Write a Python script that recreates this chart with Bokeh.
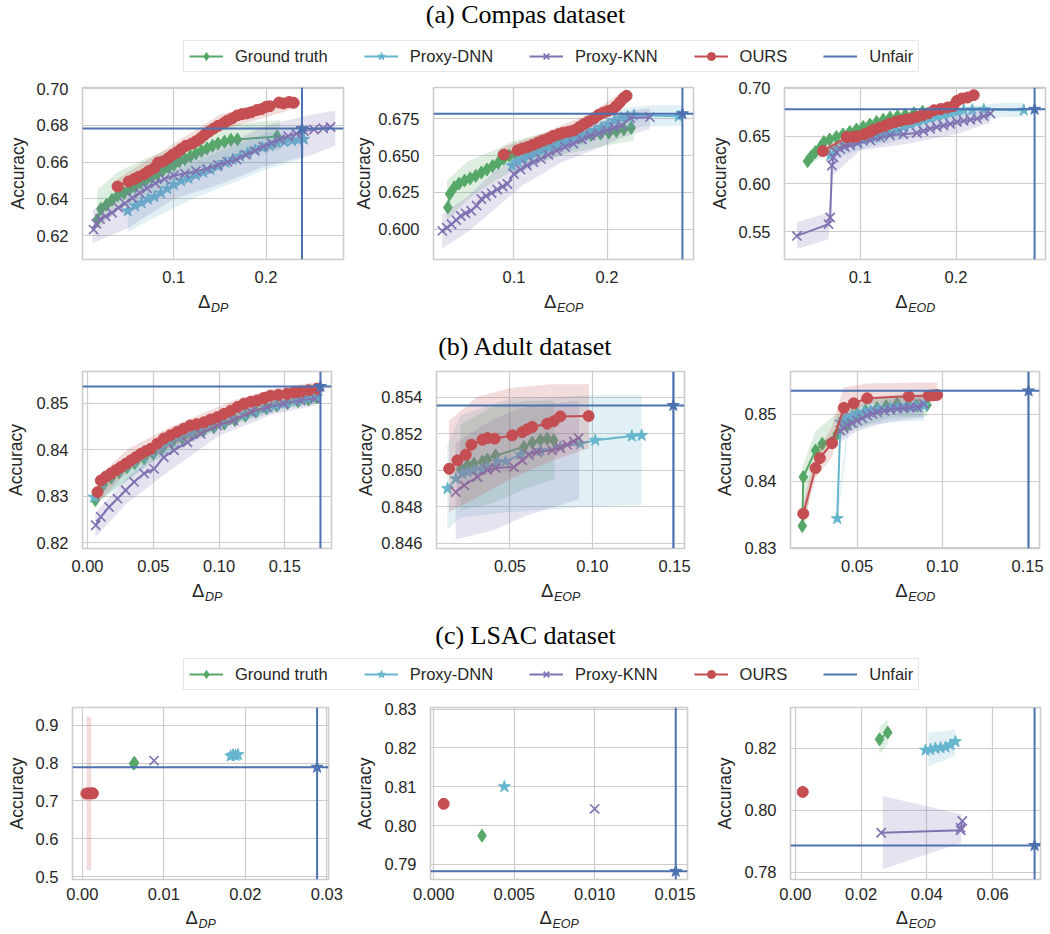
import math
from bokeh.plotting import figure
from bokeh.models import Range1d, FixedTicker, PrintfTickFormatter, Label, Legend, LegendItem, Span
from bokeh.layouts import column, row
from bokeh.embed import file_html
from bokeh.resources import INLINE

# ------------------------------------------------------------------ data
SERIES_NAMES = ["Ground truth", "Proxy-DNN", "Proxy-KNN", "OURS", "Unfair"]
SECTION_TITLES = ["(a) Compas dataset", "(b) Adult dataset", "(c) LSAC dataset"]
METRICS = ["DP", "EOP", "EOD"]

# Compas, Delta_DP
A1_GT_X = [0.017, 0.021, 0.027, 0.033, 0.039, 0.046, 0.052, 0.058, 0.064, 0.07, 0.076, 0.082, 0.088, 0.094, 0.1, 0.106, 0.112, 0.118, 0.124, 0.13, 0.136, 0.142, 0.148, 0.155, 0.162, 0.169, 0.212]
A1_GT_Y = [0.6285, 0.6345, 0.6368, 0.6395, 0.6418, 0.6432, 0.6452, 0.6468, 0.6488, 0.6502, 0.6518, 0.6535, 0.6555, 0.6572, 0.6585, 0.6605, 0.6618, 0.6632, 0.6648, 0.6662, 0.6675, 0.669, 0.6702, 0.6712, 0.6722, 0.6724, 0.674]
A1_GT_BX = [0.017, 0.04, 0.07, 0.10, 0.13, 0.16, 0.19, 0.215]
A1_GT_LO = [0.624, 0.634, 0.642, 0.650, 0.657, 0.662, 0.665, 0.667]
A1_GT_HI = [0.645, 0.655, 0.662, 0.668, 0.675, 0.680, 0.682, 0.683]
A1_DNN_X = [0.05, 0.058, 0.065, 0.072, 0.079, 0.086, 0.093, 0.1, 0.108, 0.116, 0.124, 0.132, 0.14, 0.148, 0.156, 0.164, 0.172, 0.18, 0.188, 0.196, 0.204, 0.212, 0.22, 0.228, 0.235, 0.241]
A1_DNN_Y = [0.6335, 0.6362, 0.6378, 0.6398, 0.6412, 0.6432, 0.6455, 0.6478, 0.6498, 0.6512, 0.653, 0.6545, 0.656, 0.6578, 0.6598, 0.6615, 0.6632, 0.665, 0.6666, 0.668, 0.669, 0.6705, 0.6712, 0.6718, 0.6722, 0.6725]
A1_DNN_BX = [0.05, 0.08, 0.12, 0.16, 0.20, 0.241]
A1_DNN_LO = [0.622, 0.630, 0.640, 0.648, 0.656, 0.662]
A1_DNN_HI = [0.643, 0.650, 0.660, 0.668, 0.676, 0.680]
A1_KNN_X = [0.013, 0.016, 0.02, 0.026, 0.033, 0.04, 0.047, 0.055, 0.063, 0.071, 0.08, 0.09, 0.1, 0.112, 0.124, 0.136, 0.148, 0.158, 0.168, 0.178, 0.188, 0.197, 0.206, 0.215, 0.224, 0.233, 0.241, 0.252, 0.262, 0.27]
A1_KNN_Y = [0.6233, 0.6265, 0.629, 0.6305, 0.6325, 0.6352, 0.6375, 0.6405, 0.6432, 0.6458, 0.6485, 0.6508, 0.6528, 0.6538, 0.6552, 0.6565, 0.6585, 0.6602, 0.6615, 0.664, 0.6662, 0.6685, 0.6705, 0.6725, 0.6742, 0.6755, 0.677, 0.6778, 0.6785, 0.6792]
A1_KNN_BX = [0.012, 0.05, 0.10, 0.15, 0.20, 0.25, 0.275]
A1_KNN_LO = [0.616, 0.624, 0.640, 0.648, 0.658, 0.664, 0.669]
A1_KNN_HI = [0.634, 0.648, 0.662, 0.668, 0.680, 0.686, 0.688]
A1_OURS_X = [0.039, 0.051, 0.057, 0.062, 0.068, 0.073, 0.079, 0.083, 0.088, 0.094, 0.099, 0.104, 0.108, 0.113, 0.119, 0.124, 0.129, 0.133, 0.138, 0.143, 0.148, 0.154, 0.158, 0.163, 0.169, 0.174, 0.179, 0.184, 0.19, 0.195, 0.2, 0.204, 0.214, 0.219, 0.225, 0.23]
A1_OURS_Y = [0.6468, 0.6495, 0.6508, 0.6521, 0.6535, 0.6552, 0.6569, 0.6598, 0.6604, 0.6622, 0.6641, 0.6656, 0.6672, 0.6689, 0.67, 0.6714, 0.673, 0.6748, 0.6766, 0.6783, 0.6798, 0.6812, 0.6826, 0.6838, 0.6855, 0.6862, 0.6866, 0.6872, 0.6884, 0.6889, 0.6902, 0.6905, 0.6925, 0.692, 0.6928, 0.6924]
A1_OURS_BX = [0.039, 0.10, 0.15, 0.23]
A1_OURS_LO = [0.643, 0.661, 0.677, 0.689]
A1_OURS_HI = [0.651, 0.670, 0.686, 0.696]
A1_UNFAIR = (0.239, 0.6783)

# Compas, Delta_EOP
A2_GT_X = [0.029, 0.031, 0.036, 0.041, 0.047, 0.053, 0.059, 0.065, 0.071, 0.077, 0.083, 0.089, 0.095, 0.101, 0.112, 0.124, 0.136, 0.148, 0.16, 0.172, 0.183, 0.193, 0.202, 0.21, 0.218, 0.226]
A2_GT_Y = [0.6148, 0.6239, 0.6285, 0.631, 0.633, 0.6345, 0.6362, 0.6385, 0.6405, 0.6428, 0.645, 0.6478, 0.6498, 0.6515, 0.6535, 0.6552, 0.6572, 0.659, 0.6608, 0.6625, 0.664, 0.6648, 0.6655, 0.6665, 0.6678, 0.6688]
A2_GT_BX = [0.028, 0.05, 0.08, 0.10, 0.15, 0.20, 0.229]
A2_GT_LO = [0.606, 0.620, 0.633, 0.640, 0.650, 0.657, 0.660]
A2_GT_HI = [0.633, 0.646, 0.654, 0.660, 0.668, 0.674, 0.675]
A2_DNN_X = [0.098, 0.104, 0.11, 0.117, 0.124, 0.131, 0.138, 0.145, 0.152, 0.159, 0.166, 0.173, 0.18, 0.187, 0.194, 0.201, 0.208, 0.215, 0.222, 0.229, 0.277]
A2_DNN_Y = [0.6432, 0.6458, 0.648, 0.6498, 0.6515, 0.6532, 0.655, 0.6565, 0.6582, 0.66, 0.6618, 0.6635, 0.6652, 0.667, 0.669, 0.6712, 0.6735, 0.6755, 0.6765, 0.6773, 0.6766]
A2_DNN_BX = [0.098, 0.13, 0.17, 0.21, 0.25, 0.28]
A2_DNN_LO = [0.636, 0.645, 0.656, 0.668, 0.670, 0.670]
A2_DNN_HI = [0.650, 0.662, 0.670, 0.682, 0.684, 0.684]
A2_KNN_X = [0.023, 0.028, 0.033, 0.038, 0.043, 0.048, 0.054, 0.06, 0.065, 0.07, 0.076, 0.082, 0.088, 0.093, 0.1, 0.107, 0.114, 0.121, 0.129, 0.137, 0.146, 0.155, 0.164, 0.173, 0.182, 0.191, 0.2, 0.208, 0.216, 0.225, 0.246]
A2_KNN_Y = [0.5989, 0.601, 0.6034, 0.6062, 0.609, 0.6108, 0.6125, 0.616, 0.6205, 0.6225, 0.6245, 0.627, 0.629, 0.6307, 0.6375, 0.6405, 0.6432, 0.6455, 0.6477, 0.6505, 0.6534, 0.6558, 0.658, 0.6608, 0.6636, 0.665, 0.667, 0.669, 0.6705, 0.6755, 0.676]
A2_KNN_BX = [0.023, 0.05, 0.08, 0.11, 0.15, 0.19, 0.22, 0.246]
A2_KNN_LO = [0.587, 0.598, 0.614, 0.630, 0.645, 0.655, 0.663, 0.668]
A2_KNN_HI = [0.610, 0.622, 0.640, 0.650, 0.662, 0.672, 0.680, 0.682]
A2_OURS_X = [0.089, 0.104, 0.109, 0.115, 0.12, 0.126, 0.131, 0.137, 0.142, 0.148, 0.153, 0.159, 0.164, 0.17, 0.175, 0.18, 0.186, 0.191, 0.196, 0.201, 0.206, 0.21, 0.214, 0.218, 0.221]
A2_OURS_Y = [0.6507, 0.6535, 0.6548, 0.6558, 0.6572, 0.6588, 0.6602, 0.6615, 0.6632, 0.6645, 0.6655, 0.6662, 0.667, 0.6692, 0.6712, 0.673, 0.6752, 0.6775, 0.679, 0.6802, 0.6812, 0.6835, 0.6862, 0.689, 0.6905]
A2_OURS_BX = [0.089, 0.13, 0.18, 0.221]
A2_OURS_LO = [0.646, 0.655, 0.668, 0.686]
A2_OURS_HI = [0.656, 0.665, 0.678, 0.695]
A2_UNFAIR = (0.281, 0.6783)

# Compas, Delta_EOD
A3_GT_X = [0.045, 0.049, 0.053, 0.058, 0.062, 0.068, 0.075, 0.082, 0.089, 0.096, 0.103, 0.11, 0.117, 0.124, 0.131, 0.139, 0.147, 0.156, 0.165]
A3_GT_Y = [0.6239, 0.629, 0.6333, 0.638, 0.6439, 0.6465, 0.6491, 0.6518, 0.6544, 0.657, 0.6596, 0.6622, 0.6649, 0.6672, 0.6695, 0.671, 0.6725, 0.674, 0.6755]
A3_GT_BX = [0.045, 0.07, 0.10, 0.13, 0.165]
A3_GT_LO = [0.618, 0.636, 0.648, 0.656, 0.662]
A3_GT_HI = [0.632, 0.652, 0.664, 0.672, 0.677]
A3_DNN_X = [0.0686, 0.074, 0.0826, 0.09, 0.0975, 0.1035, 0.11, 0.117, 0.124, 0.131, 0.138, 0.145, 0.152, 0.159, 0.166, 0.173, 0.18, 0.187, 0.194, 0.201, 0.208, 0.217, 0.229, 0.2707]
A3_DNN_Y = [0.6298, 0.636, 0.6404, 0.6425, 0.644, 0.6456, 0.6475, 0.6492, 0.6509, 0.653, 0.656, 0.6596, 0.662, 0.6645, 0.6667, 0.6685, 0.6702, 0.6719, 0.6738, 0.6755, 0.6772, 0.6776, 0.6779, 0.6772]
A3_DNN_BX = [0.069, 0.10, 0.15, 0.20, 0.25, 0.271]
A3_DNN_LO = [0.624, 0.636, 0.648, 0.662, 0.670, 0.670]
A3_DNN_HI = [0.636, 0.652, 0.666, 0.680, 0.685, 0.685]
A3_KNN_X = [0.0338, 0.0669, 0.0686, 0.0704, 0.072, 0.075, 0.079, 0.084, 0.0895, 0.097, 0.1105, 0.121, 0.131, 0.145, 0.159, 0.166, 0.173, 0.18, 0.187, 0.194, 0.201, 0.208, 0.215, 0.222, 0.229, 0.236]
A3_KNN_Y = [0.5456, 0.5579, 0.5649, 0.6193, 0.628, 0.633, 0.6368, 0.639, 0.6404, 0.6425, 0.6456, 0.6485, 0.6509, 0.652, 0.6533, 0.6555, 0.6578, 0.6596, 0.6612, 0.6628, 0.6649, 0.666, 0.6672, 0.6684, 0.671, 0.6737]
A3_KNN_BX = [0.034, 0.067, 0.072, 0.10, 0.15, 0.20, 0.236]
A3_KNN_LO = [0.532, 0.542, 0.610, 0.635, 0.642, 0.652, 0.664]
A3_KNN_HI = [0.560, 0.570, 0.632, 0.650, 0.660, 0.672, 0.680]
A3_OURS_X = [0.061, 0.086, 0.093, 0.0965, 0.104, 0.11, 0.114, 0.12, 0.126, 0.131, 0.137, 0.142, 0.148, 0.153, 0.159, 0.165, 0.171, 0.177, 0.184, 0.191, 0.197, 0.201, 0.206, 0.212, 0.2185]
A3_OURS_Y = [0.6344, 0.6491, 0.6495, 0.6498, 0.652, 0.6545, 0.6568, 0.659, 0.661, 0.6632, 0.665, 0.6662, 0.6674, 0.6682, 0.67, 0.6719, 0.674, 0.6772, 0.6785, 0.68, 0.6814, 0.687, 0.6895, 0.6905, 0.693]
A3_OURS_BX = [0.061, 0.10, 0.15, 0.2185]
A3_OURS_LO = [0.630, 0.646, 0.664, 0.688]
A3_OURS_HI = [0.640, 0.654, 0.672, 0.696]
A3_UNFAIR = (0.282, 0.6782)

# Adult, Delta_DP
B1_GT_X = [0.006, 0.012, 0.018, 0.024, 0.03, 0.036, 0.043, 0.05, 0.057, 0.064, 0.072, 0.08, 0.088, 0.096, 0.104, 0.112, 0.12, 0.128, 0.136, 0.144, 0.152, 0.16, 0.168, 0.174]
B1_GT_Y = [0.8292, 0.8325, 0.834, 0.8352, 0.8362, 0.8371, 0.8382, 0.8392, 0.8404, 0.8415, 0.8425, 0.8434, 0.8441, 0.8448, 0.8456, 0.8464, 0.8473, 0.8482, 0.8489, 0.8495, 0.85, 0.8504, 0.8508, 0.8512]
B1_GT_BX = [0.004, 0.05, 0.10, 0.15, 0.174]
B1_GT_LO = [0.8280, 0.8375, 0.8445, 0.8488, 0.8500]
B1_GT_HI = [0.8315, 0.8405, 0.8475, 0.8512, 0.8522]
B1_DNN_X = [0.005, 0.011, 0.017, 0.023, 0.029, 0.035, 0.042, 0.049, 0.056, 0.063, 0.071, 0.079, 0.087, 0.095, 0.103, 0.111, 0.119, 0.127, 0.135, 0.143, 0.151, 0.159, 0.167, 0.174]
B1_DNN_Y = [0.8298, 0.8327, 0.8342, 0.8354, 0.8364, 0.8373, 0.8384, 0.8394, 0.8405, 0.8417, 0.8427, 0.8435, 0.8443, 0.845, 0.8458, 0.8466, 0.8475, 0.8483, 0.849, 0.8496, 0.8501, 0.8505, 0.851, 0.8514]
B1_DNN_BX = [0.005, 0.05, 0.10, 0.15, 0.174]
B1_DNN_LO = [0.8282, 0.8377, 0.8447, 0.8490, 0.8502]
B1_DNN_HI = [0.8318, 0.8408, 0.8477, 0.8514, 0.8525]
B1_KNN_X = [0.0063, 0.0101, 0.0164, 0.0228, 0.029, 0.0354, 0.043, 0.0506, 0.058, 0.0658, 0.0759, 0.086, 0.0986, 0.111, 0.124, 0.1366, 0.149, 0.162, 0.173]
B1_KNN_Y = [0.8238, 0.8256, 0.8277, 0.8295, 0.8313, 0.8331, 0.8349, 0.8359, 0.8384, 0.8399, 0.8416, 0.8434, 0.8452, 0.8463, 0.8481, 0.8491, 0.8499, 0.8506, 0.851]
B1_KNN_BX = [0.006, 0.03, 0.06, 0.10, 0.14, 0.173]
B1_KNN_LO = [0.8212, 0.8285, 0.8350, 0.8430, 0.8475, 0.8495]
B1_KNN_HI = [0.8265, 0.8340, 0.8410, 0.8470, 0.8505, 0.8525]
B1_OURS_X = [0.0076, 0.0101, 0.0139, 0.0177, 0.0215, 0.0253, 0.0291, 0.0329, 0.0367, 0.0405, 0.0443, 0.048, 0.053, 0.058, 0.063, 0.068, 0.073, 0.078, 0.083, 0.0885, 0.0935, 0.0986, 0.1037, 0.1088, 0.114, 0.119, 0.124, 0.129, 0.134, 0.139, 0.145, 0.1517, 0.157, 0.162, 0.168, 0.1745]
B1_OURS_Y = [0.8309, 0.8334, 0.8342, 0.8349, 0.8356, 0.8363, 0.837, 0.8377, 0.8384, 0.8391, 0.8397, 0.8402, 0.8413, 0.8424, 0.8431, 0.8438, 0.8445, 0.8452, 0.8455, 0.8459, 0.8465, 0.847, 0.8477, 0.8484, 0.8492, 0.8499, 0.8503, 0.8506, 0.8511, 0.8516, 0.8518, 0.852, 0.8523, 0.8525, 0.8528, 0.8531]
B1_OURS_BX = [0.0076, 0.03, 0.06, 0.11, 0.14, 0.1745]
B1_OURS_LO = [0.8285, 0.8352, 0.8402, 0.8460, 0.8495, 0.8518]
B1_OURS_HI = [0.8340, 0.8400, 0.8445, 0.8505, 0.8530, 0.8546]
B1_UNFAIR = (0.177, 0.8536)

# Adult, Delta_EOP
B2_GT_X = [0.0202, 0.0242, 0.0282, 0.0333, 0.0363, 0.0413, 0.0585, 0.0635, 0.0685, 0.0726, 0.0766]
B2_GT_Y = [0.85007, 0.85026, 0.85035, 0.85047, 0.85058, 0.8508, 0.85126, 0.8515, 0.85163, 0.85172, 0.85163]
B2_GT_BX = [0.020, 0.040, 0.060, 0.077]
B2_GT_LO = [0.8478, 0.8482, 0.8490, 0.8495]
B2_GT_HI = [0.8525, 0.8535, 0.8538, 0.8538]
B2_DNN_X = [0.0121, 0.0171, 0.0212, 0.0242, 0.0282, 0.0333, 0.0363, 0.0423, 0.0474, 0.0565, 0.0685, 0.0806, 0.0927, 0.1018, 0.124, 0.130]
B2_DNN_Y = [0.84898, 0.84952, 0.8498, 0.84989, 0.84998, 0.85007, 0.85016, 0.85044, 0.85047, 0.85084, 0.85108, 0.85126, 0.85144, 0.85163, 0.85186, 0.8519]
B2_DNN_BX = [0.012, 0.020, 0.050, 0.100, 0.130]
B2_DNN_LO = [0.8467, 0.8474, 0.8477, 0.8480, 0.8481]
B2_DNN_HI = [0.8514, 0.8530, 0.8539, 0.8541, 0.8541]
B2_KNN_X = [0.0171, 0.0222, 0.0302, 0.0363, 0.0413, 0.0524, 0.0575, 0.0615, 0.0665, 0.0756, 0.0806, 0.0847, 0.0887, 0.0917]
B2_KNN_Y = [0.8488, 0.84916, 0.84962, 0.85, 0.85011, 0.85016, 0.85053, 0.85084, 0.85099, 0.85108, 0.85121, 0.85139, 0.85157, 0.85175]
B2_KNN_BX = [0.017, 0.040, 0.060, 0.092]
B2_KNN_LO = [0.8462, 0.8467, 0.8475, 0.8484]
B2_KNN_HI = [0.8515, 0.8528, 0.8535, 0.8538]
B2_OURS_X = [0.0131, 0.0181, 0.0232, 0.0266, 0.0333, 0.0363, 0.0407, 0.0514, 0.0575, 0.0605, 0.0635, 0.0726, 0.0766, 0.0806, 0.0978]
B2_OURS_Y = [0.85007, 0.85053, 0.85084, 0.85139, 0.85166, 0.85175, 0.85172, 0.8519, 0.85208, 0.85223, 0.85236, 0.85254, 0.85268, 0.85294, 0.85296]
B2_OURS_BX = [0.013, 0.030, 0.050, 0.075, 0.098]
B2_OURS_LO = [0.8477, 0.8485, 0.8495, 0.8505, 0.8512]
B2_OURS_HI = [0.8527, 0.8540, 0.8545, 0.8547, 0.8547]
B2_UNFAIR = (0.1492, 0.85354)

# Adult, Delta_EOD
B3_GT_X = [0.0178, 0.0184, 0.0256, 0.0295, 0.0383, 0.0441, 0.05, 0.055, 0.0617, 0.067, 0.0734, 0.08, 0.0852, 0.091]
B3_GT_Y = [0.83328, 0.8406, 0.84458, 0.84557, 0.84706, 0.84831, 0.85005, 0.8505, 0.8509, 0.8512, 0.85154, 0.8514, 0.85129, 0.85139]
B3_GT_BX = [0.0178, 0.0256, 0.035, 0.05, 0.07, 0.091]
B3_GT_LO = [0.8315, 0.8425, 0.8455, 0.8480, 0.8495, 0.8497]
B3_GT_HI = [0.8420, 0.8475, 0.8495, 0.8520, 0.8527, 0.8528]
B3_DNN_X = [0.0383, 0.0402, 0.0421, 0.0441, 0.047, 0.05, 0.054, 0.0578, 0.0625, 0.0695, 0.074, 0.0793, 0.084, 0.0891]
B3_DNN_Y = [0.83438, 0.84881, 0.8492, 0.84955, 0.8498, 0.85005, 0.8503, 0.85055, 0.8507, 0.8509, 0.85105, 0.85119, 0.85125, 0.85129]
B3_DNN_BX = [0.0383, 0.045, 0.06, 0.08, 0.0891]
B3_DNN_LO = [0.8335, 0.8475, 0.8485, 0.8490, 0.8490]
B3_DNN_HI = [0.8352, 0.8505, 0.8525, 0.8532, 0.8533]
B3_KNN_X = [0.0402, 0.0421, 0.0441, 0.047, 0.05, 0.053, 0.0559, 0.059, 0.0617, 0.066, 0.0695, 0.0735, 0.0773, 0.081, 0.0852, 0.0891]
B3_KNN_Y = [0.84756, 0.8479, 0.84831, 0.8487, 0.84905, 0.8494, 0.8498, 0.85005, 0.8503, 0.8505, 0.8507, 0.8508, 0.8509, 0.851, 0.85104, 0.85154]
B3_KNN_BX = [0.040, 0.05, 0.07, 0.0891]
B3_KNN_LO = [0.8458, 0.8475, 0.8490, 0.8495]
B3_KNN_HI = [0.8492, 0.8505, 0.8522, 0.8530]
B3_OURS_X = [0.0184, 0.0256, 0.0281, 0.0353, 0.0422, 0.048, 0.0559, 0.0803, 0.092, 0.0945, 0.0969]
B3_OURS_Y = [0.83512, 0.84194, 0.84343, 0.84567, 0.85095, 0.85164, 0.85239, 0.85269, 0.85279, 0.85282, 0.85289]
B3_OURS_BX = [0.0184, 0.0256, 0.035, 0.042, 0.056, 0.0969]
B3_OURS_LO = [0.8335, 0.8405, 0.8435, 0.8495, 0.8515, 0.8522]
B3_OURS_HI = [0.8368, 0.8440, 0.8480, 0.8540, 0.8546, 0.8548]
B3_UNFAIR = (0.1506, 0.8535)

# LSAC, Delta_DP
C1_GT_X = [0.0063, 0.0064]
C1_GT_Y = [0.7985, 0.8005]
C1_DNN_X = [0.0182, 0.0185, 0.0188, 0.0191]
C1_DNN_Y = [0.8185, 0.8215, 0.82, 0.822]
C1_KNN_X = [0.0088]
C1_KNN_Y = [0.8064]
C1_OURS_X = [0.0005, 0.0008, 0.0011, 0.0013]
C1_OURS_Y = [0.7195, 0.72, 0.7198, 0.7202]
C1_OURS_BX = [0.0005, 0.0011]
C1_OURS_LO = [0.518, 0.518]
C1_OURS_HI = [0.922, 0.922]
C1_UNFAIR = (0.0288, 0.789)

# LSAC, Delta_EOP
C2_GT_X = [0.0030]
C2_GT_Y = [0.7974]
C2_DNN_X = [0.00439]
C2_DNN_Y = [0.8100]
C2_KNN_X = [0.0100]
C2_KNN_Y = [0.8043]
C2_OURS_X = [0.00062]
C2_OURS_Y = [0.8056]
C2_UNFAIR = (0.01504, 0.7882)

# LSAC, Delta_EOD
C3_GT_X = [0.0256, 0.0281]
C3_GT_Y = [0.8229, 0.8251]
C3_GT_BX = [0.0256, 0.0281]
C3_GT_LO = [0.8181, 0.8215]
C3_GT_HI = [0.8270, 0.8294]
C3_DNN_X = [0.0396, 0.0411, 0.0426, 0.0442, 0.0457, 0.0472, 0.0487]
C3_DNN_Y = [0.8194, 0.8196, 0.82, 0.8202, 0.8204, 0.8211, 0.8222]
C3_DNN_BX = [0.0405, 0.045, 0.0485]
C3_DNN_LO = [0.8143, 0.8160, 0.8175]
C3_DNN_HI = [0.8251, 0.8255, 0.8262]
C3_KNN_X = [0.0261, 0.0503, 0.0503, 0.0508]
C3_KNN_Y = [0.7927, 0.7935, 0.7943, 0.7965]
C3_KNN_BX = [0.0266, 0.0505]
C3_KNN_LO = [0.7809, 0.7895]
C3_KNN_HI = [0.8046, 0.7987]
C3_OURS_X = [0.00223]
C3_OURS_Y = [0.8059]
C3_UNFAIR = (0.0728, 0.7886)

# Axis ticks
A1_XTICKS, A1_YTICKS = [0.1, 0.2], [0.62, 0.64, 0.66, 0.68, 0.70]
A2_XTICKS, A2_YTICKS = [0.1, 0.2], [0.600, 0.625, 0.650, 0.675]
A3_XTICKS, A3_YTICKS = [0.1, 0.2], [0.55, 0.60, 0.65, 0.70]
B1_XTICKS, B1_YTICKS = [0.0, 0.05, 0.10, 0.15], [0.82, 0.83, 0.84, 0.85]
B2_XTICKS, B2_YTICKS = [0.05, 0.10, 0.15], [0.846, 0.848, 0.850, 0.852, 0.854]
B3_XTICKS, B3_YTICKS = [0.05, 0.10, 0.15], [0.83, 0.84, 0.85]
C1_XTICKS, C1_YTICKS = [0.0, 0.01, 0.02, 0.03], [0.5, 0.6, 0.7, 0.8, 0.9]
C2_XTICKS, C2_YTICKS = [0.0, 0.005, 0.010, 0.015], [0.79, 0.80, 0.81, 0.82, 0.83]
C3_XTICKS, C3_YTICKS = [0.0, 0.02, 0.04, 0.06], [0.78, 0.80, 0.82]

# ------------------------------------------------------------------ style
GREEN, CYAN, PURPLE, RED, BLUE = "#55A868", "#64B5CD", "#8172B2", "#C44E52", "#4C72B0"
COLORS = [GREEN, CYAN, PURPLE, RED]
MARKERS = ["diamond", "star", "x", "circle"]
MSIZE = {"diamond": 13, "star": 12.5, "x": 13, "circle": 11}
SANS = "Liberation Sans"
SERIF = "Liberation Serif"
INK = "#262626"
GRIDC = "#cccccc"
SUB_W = {"DP": 17.5, "EOP": 26.5, "EOD": 27.0}
NAN = float("nan")


def add_series(p, xs, ys, color, marker):
    ln = p.line(xs, ys, line_color=color, line_width=2)
    kw = dict(marker=marker, size=MSIZE[marker], line_color=color)
    if marker == "x":
        kw.update(line_width=1.7)
    else:
        kw.update(fill_color=color)
    sc = p.scatter(xs, ys, **kw)
    return ln, sc


def panel(xr, yr, height, borders, xticks, yticks, xfmt, yfmt,
          series, unfair, acc_standoff, xstandoff=11):
    left, right, top, bottom = borders
    p = figure(width=350, height=height, x_range=Range1d(*xr), y_range=Range1d(*yr),
               output_backend="svg", toolbar_location=None, title=None,
               min_border_left=left, min_border_right=right,
               min_border_top=top, min_border_bottom=bottom)
    p.background_fill_color = "white"
    p.border_fill_color = "white"
    p.outline_line_color = GRIDC
    p.outline_line_width = 1.6
    p.xaxis.ticker = FixedTicker(ticks=xticks)
    p.yaxis.ticker = FixedTicker(ticks=yticks)
    p.xaxis.formatter = PrintfTickFormatter(format=xfmt)
    p.yaxis.formatter = PrintfTickFormatter(format=yfmt)
    for ax in (p.xaxis[0], p.yaxis[0]):
        ax.axis_line_color = None
        ax.major_tick_line_color = None
        ax.minor_tick_line_color = None
        ax.major_tick_out = 0
        ax.major_tick_in = 0
        ax.major_label_text_font = SANS
        ax.major_label_text_font_size = "16.5px"
        ax.major_label_text_color = INK
    p.xaxis.major_label_standoff = xstandoff
    p.yaxis.major_label_standoff = 14
    p.yaxis.axis_label = "Accuracy"
    p.yaxis.axis_label_standoff = acc_standoff
    p.yaxis.axis_label_text_font = SANS
    p.yaxis.axis_label_text_font_size = "17.5px"
    p.yaxis.axis_label_text_font_style = "normal"
    p.yaxis.axis_label_text_color = INK
    p.grid.grid_line_color = GRIDC
    p.grid.grid_line_width = 1.2

    for (xs, ys, band), color, marker in zip(series, COLORS, MARKERS):
        if band is not None:
            bx, lo, hi = band
            p.varea(x=bx, y1=lo, y2=hi, fill_color=color, fill_alpha=0.2)
        add_series(p, xs, ys, color, marker)

    ux, uy = unfair
    p.add_layout(Span(location=uy, dimension="width", line_color=BLUE, line_width=2))
    p.add_layout(Span(location=ux, dimension="height", line_color=BLUE, line_width=2))
    p.scatter([ux], [uy], marker="star", size=12.5, fill_color=BLUE, line_color=BLUE)
    return p


def strip(height, title=None, title_y=None, legend_bottom=None, deltas=None):
    """Full-width band holding section titles, the shared legend and x-axis names."""
    h = figure(width=1050, height=height, x_range=Range1d(0, 1050), y_range=Range1d(height, 0),
               output_backend="svg", toolbar_location=None, title=None,
               x_axis_type=None, y_axis_type=None,
               min_border_left=0, min_border_right=0, min_border_top=0, min_border_bottom=0)
    h.outline_line_color = None
    h.background_fill_color = "white"
    h.border_fill_color = "white"
    if title is not None:
        h.add_layout(Label(x=525, y=title_y, text=title, text_align="center", text_baseline="middle",
                           text_font=SERIF, text_font_size="26px", text_color="black"))
    if deltas is not None:
        cy, centers = deltas
        for cx, sub in zip(centers, METRICS):
            w = 12.5 + SUB_W[sub]
            h.add_layout(Label(x=cx, y=cy, x_offset=-w / 2, text="Δ",
                               text_align="left", text_baseline="middle",
                               text_font=SANS, text_font_size="18.5px", text_color=INK))
            h.add_layout(Label(x=cx, y=cy + 6, x_offset=-w / 2 + 13, text=sub,
                               text_align="left", text_baseline="middle", text_font_style="italic",
                               text_font=SANS, text_font_size="12.5px", text_color=INK))
    if legend_bottom is not None:
        items = []
        for name, color, marker in zip(SERIES_NAMES[:4], COLORS, MARKERS):
            ln, sc = add_series(h, [NAN], [NAN], color, marker)
            items.append(LegendItem(label=name, renderers=[ln, sc]))
        ul = h.line([NAN], [NAN], line_color=BLUE, line_width=2)
        items.append(LegendItem(label=SERIES_NAMES[4], renderers=[ul]))
        lg = Legend(items=items, location=(183, legend_bottom), orientation="horizontal",
                    glyph_width=34, glyph_height=20, label_height=20, label_standoff=12,
                    spacing=36, padding=5, margin=0,
                    label_text_font=SANS, label_text_font_size="16.5px", label_text_color=INK,
                    border_line_color="#d0d0d0", border_line_width=1,
                    background_fill_color="white", background_fill_alpha=1.0)
        h.add_layout(lg)
    return h


def band(bx, lo, hi):
    return (bx, lo, hi)


pA1 = panel((0.001, 0.284), (0.607, 0.7007), 210, (82, 7, 7, 31), A1_XTICKS, A1_YTICKS, "%.1f", "%.2f",
            [(A1_GT_X, A1_GT_Y, band(A1_GT_BX, A1_GT_LO, A1_GT_HI)),
             (A1_DNN_X, A1_DNN_Y, band(A1_DNN_BX, A1_DNN_LO, A1_DNN_HI)),
             (A1_KNN_X, A1_KNN_Y, band(A1_KNN_BX, A1_KNN_LO, A1_KNN_HI)),
             (A1_OURS_X, A1_OURS_Y, band(A1_OURS_BX, A1_OURS_LO, A1_OURS_HI))],
            A1_UNFAIR, 5)
pA2 = panel((0.0136, 0.2929), (0.5795, 0.6961), 210, (83, 7, 7, 31), A2_XTICKS, A2_YTICKS, "%.1f", "%.3f",
            [(A2_GT_X, A2_GT_Y, band(A2_GT_BX, A2_GT_LO, A2_GT_HI)),
             (A2_DNN_X, A2_DNN_Y, band(A2_DNN_BX, A2_DNN_LO, A2_DNN_HI)),
             (A2_KNN_X, A2_KNN_Y, band(A2_KNN_BX, A2_KNN_LO, A2_KNN_HI)),
             (A2_OURS_X, A2_OURS_Y, band(A2_OURS_BX, A2_OURS_LO, A2_OURS_HI))],
            A2_UNFAIR, 1)
pA3 = panel((0.0209, 0.2934), (0.5209, 0.701), 210, (84, 5, 7, 31), A3_XTICKS, A3_YTICKS, "%.1f", "%.2f",
            [(A3_GT_X, A3_GT_Y, band(A3_GT_BX, A3_GT_LO, A3_GT_HI)),
             (A3_DNN_X, A3_DNN_Y, band(A3_DNN_BX, A3_DNN_LO, A3_DNN_HI)),
             (A3_KNN_X, A3_KNN_Y, band(A3_KNN_BX, A3_KNN_LO, A3_KNN_HI)),
             (A3_OURS_X, A3_OURS_Y, band(A3_OURS_BX, A3_OURS_LO, A3_OURS_HI))],
            A3_UNFAIR, 5)

pB1 = panel((-0.0038, 0.1854), (0.8188, 0.8568), 219, (82, 19, 11, 31), B1_XTICKS, B1_YTICKS, "%.2f", "%.2f",
            [(B1_GT_X, B1_GT_Y, band(B1_GT_BX, B1_GT_LO, B1_GT_HI)),
             (B1_DNN_X, B1_DNN_Y, band(B1_DNN_BX, B1_DNN_LO, B1_DNN_HI)),
             (B1_KNN_X, B1_KNN_Y, band(B1_KNN_BX, B1_KNN_LO, B1_KNN_HI)),
             (B1_OURS_X, B1_OURS_Y, band(B1_OURS_BX, B1_OURS_LO, B1_OURS_HI))],
            B1_UNFAIR, 7)
pB2 = panel((0.0054, 0.156), (0.8457, 0.8554), 219, (86, 16, 11, 31), B2_XTICKS, B2_YTICKS, "%.2f", "%.3f",
            [(B2_GT_X, B2_GT_Y, band(B2_GT_BX, B2_GT_LO, B2_GT_HI)),
             (B2_DNN_X, B2_DNN_Y, band(B2_DNN_BX, B2_DNN_LO, B2_DNN_HI)),
             (B2_KNN_X, B2_KNN_Y, band(B2_KNN_BX, B2_KNN_LO, B2_KNN_HI)),
             (B2_OURS_X, B2_OURS_Y, band(B2_OURS_BX, B2_OURS_LO, B2_OURS_HI))],
            B2_UNFAIR, 2)
pB3 = panel((0.0109, 0.157), (0.8299, 0.8564), 219, (90, 11, 11, 31), B3_XTICKS, B3_YTICKS, "%.2f", "%.2f",
            [(B3_GT_X, B3_GT_Y, band(B3_GT_BX, B3_GT_LO, B3_GT_HI)),
             (B3_DNN_X, B3_DNN_Y, band(B3_DNN_BX, B3_DNN_LO, B3_DNN_HI)),
             (B3_KNN_X, B3_KNN_Y, band(B3_KNN_BX, B3_KNN_LO, B3_KNN_HI)),
             (B3_OURS_X, B3_OURS_Y, band(B3_OURS_BX, B3_OURS_LO, B3_OURS_HI))],
            B3_UNFAIR, 6)

pC1 = panel((-0.0012, 0.0302), (0.493, 0.9464), 206, (72, 22, 7, 27), C1_XTICKS, C1_YTICKS, "%.2f", "%.1f",
            [(C1_GT_X, C1_GT_Y, None),
             (C1_DNN_X, C1_DNN_Y, None),
             (C1_KNN_X, C1_KNN_Y, None),
             (C1_OURS_X, C1_OURS_Y, band(C1_OURS_BX, C1_OURS_LO, C1_OURS_HI))],
            C1_UNFAIR, 6, xstandoff=8)
pC2 = panel((-0.0002, 0.01577), (0.7861, 0.8304), 206, (80, 13, 7, 27), C2_XTICKS, C2_YTICKS, "%.3f", "%.2f",
            [(C2_GT_X, C2_GT_Y, None),
             (C2_DNN_X, C2_DNN_Y, None),
             (C2_KNN_X, C2_KNN_Y, None),
             (C2_OURS_X, C2_OURS_Y, None)],
            C2_UNFAIR, 6, xstandoff=8)
pC3 = panel((-0.0015, 0.0746), (0.7776, 0.8332), 206, (90, 10, 7, 27), C3_XTICKS, C3_YTICKS, "%.2f", "%.2f",
            [(C3_GT_X, C3_GT_Y, band(C3_GT_BX, C3_GT_LO, C3_GT_HI)),
             (C3_DNN_X, C3_DNN_Y, band(C3_DNN_BX, C3_DNN_LO, C3_DNN_HI)),
             (C3_KNN_X, C3_KNN_Y, band(C3_KNN_BX, C3_KNN_LO, C3_KNN_HI)),
             (C3_OURS_X, C3_OURS_Y, None)],
            C3_UNFAIR, 6, xstandoff=8)

hA = strip(80, SECTION_TITLES[0], 14, legend_bottom=8)
hB = strip(70, SECTION_TITLES[1], 56, deltas=(11, [212.5, 563, 914.5]))
hC = strip(121, SECTION_TITLES[2], 56, legend_bottom=10, deltas=(11, [206.5, 560, 914.5]))
hD = strip(28, deltas=(11, [200, 558.5, 915]))

layout = column(hA, row(pA1, pA2, pA3, spacing=0), hB, row(pB1, pB2, pB3, spacing=0),
                hC, row(pC1, pC2, pC3, spacing=0), hD, spacing=0)

open("out.html", "w").write(file_html(layout, INLINE))
